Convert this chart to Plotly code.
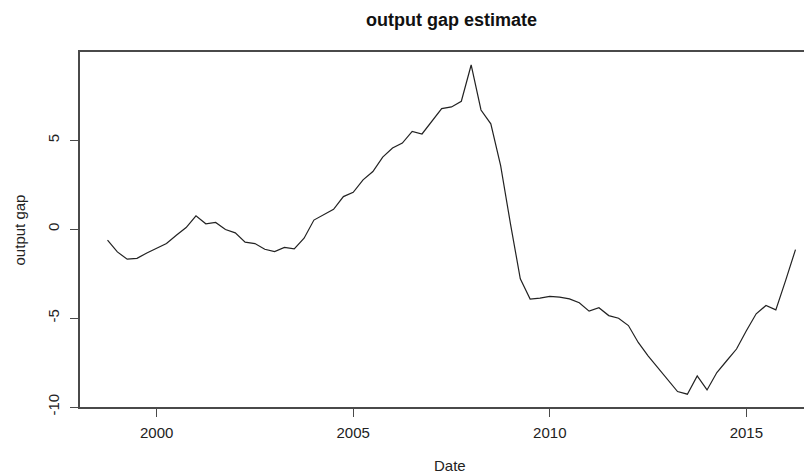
import plotly.graph_objects as go

# quarterly output gap estimate, 1998 Q4 .. 2016 Q2
start_year = 1998.75
step = 0.25
gap = [
    -0.62, -1.28, -1.69, -1.64, -1.34, -1.09, -0.81, -0.34, 0.09, 0.75,
    0.30, 0.38, -0.02, -0.21, -0.73, -0.81, -1.13, -1.26, -1.03, -1.11,
    -0.51, 0.51, 0.79, 1.11, 1.83, 2.07, 2.77, 3.24, 4.05, 4.56,
    4.84, 5.50, 5.35, 6.06, 6.78, 6.87, 7.19, 9.23, 6.70, 5.92,
    3.57, 0.30, -2.79, -3.93, -3.88, -3.78, -3.82, -3.92, -4.14, -4.61,
    -4.42, -4.86, -5.01, -5.42, -6.37, -7.12, -7.78, -8.44, -9.13, -9.28,
    -8.25, -9.04, -8.06, -7.40, -6.74, -5.71, -4.76, -4.29, -4.54, -2.88,
    -1.15,
]
dates = [start_year + step * i for i in range(len(gap))]

x_ticks = [2000, 2005, 2010, 2015]
y_ticks = [-10, -5, 0, 5]

font = "Liberation Sans, Arial, sans-serif"
axis_col = "#4a4a4a"

fig = go.Figure()
fig.add_trace(
    go.Scatter(
        x=dates, y=gap, mode="lines",
        line=dict(color="#222222", width=1.2),
        showlegend=False, hoverinfo="x+y",
    )
)

# the page body has an 8px margin, so the figure is a bit smaller than the window
fig.update_layout(
    width=804, height=466,
    margin=dict(l=72, r=0, t=44, b=67),
    paper_bgcolor="white", plot_bgcolor="white",
    font=dict(family=font, size=15, color="#222222"),
    annotations=[
        dict(text="<b>output gap estimate</b>", x=0.507, y=1.09, xref="paper", yref="paper",
             showarrow=False, yanchor="middle", font=dict(size=18, color="#111111")),
        dict(text="Date", x=0.505, y=-0.166, xref="paper", yref="paper",
             showarrow=False, yanchor="middle", font=dict(size=15)),
        dict(text="output gap", x=-0.082, y=0.5, xref="paper", yref="paper",
             showarrow=False, textangle=-90, xanchor="center", font=dict(size=15)),
    ],
)

fig.update_xaxes(
    range=[1998.05, 2016.67], tickvals=x_ticks, ticktext=[str(v) for v in x_ticks],
    ticks="outside", ticklen=8, tickcolor=axis_col, tickwidth=1.2, ticklabelstandoff=3,
    showline=True, linecolor=axis_col, linewidth=1.5, mirror=True,
    showgrid=False, zeroline=False,
)
fig.update_yaxes(
    range=[-10.0, 9.96], tickvals=y_ticks, ticktext=[str(v) for v in y_ticks],
    tickangle=-90, ticks="outside", ticklen=8, tickcolor=axis_col, tickwidth=1.2,
    ticklabelstandoff=5,
    showline=True, linecolor=axis_col, linewidth=1.5, mirror=False,
    showgrid=False, zeroline=False,
)

fig.write_html("out.html")
